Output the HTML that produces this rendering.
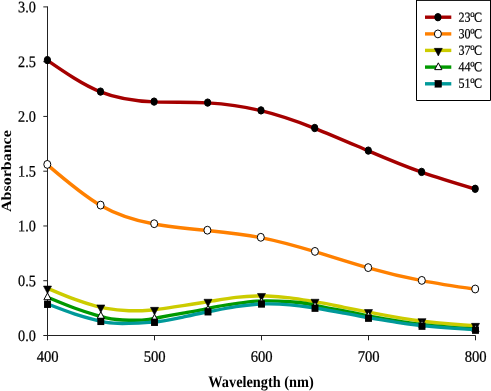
<!DOCTYPE html>
<html><head><meta charset="utf-8"><title>Absorbance vs Wavelength</title>
<style>html,body{margin:0;padding:0;background:#fff}body{width:491px;height:391px;overflow:hidden}text{text-rendering:geometricPrecision}</style>
</head><body>
<svg width="491" height="391" viewBox="0 0 491 391" style="display:block">
<rect width="491" height="391" fill="#fff"/>
<g stroke="#222" stroke-width="1" fill="none" shape-rendering="auto">
<path d="M47.5,6.4V340.3"/>
<path d="M43.3,335.5H475.5"/>
<path d="M43.3,280.73H47.5"/>
<path d="M43.3,225.97H47.5"/>
<path d="M43.3,171.20H47.5"/>
<path d="M43.3,116.43H47.5"/>
<path d="M43.3,61.67H47.5"/>
<path d="M43.3,6.90H47.5"/>
<path d="M154.50,335.5V340.3"/>
<path d="M261.50,335.5V340.3"/>
<path d="M368.50,335.5V340.3"/>
<path d="M475.50,335.5V340.3"/>
</g>
<path d="M47.40,60.40C65.10,72.58 82.80,84.76 100.50,91.90C118.37,99.11 136.23,101.19 154.10,101.90C171.95,102.61 189.80,101.96 207.65,102.90C225.43,103.84 243.22,106.37 261.00,110.70C278.90,115.06 296.80,121.25 314.70,128.30C332.57,135.34 350.43,143.24 368.30,150.90C386.07,158.51 403.83,165.89 421.60,172.20C439.47,178.55 457.33,183.82 475.20,189.10" fill="none" stroke="#a50000" stroke-width="3.4" stroke-linecap="butt"/>
<ellipse cx="47.40" cy="60.10" rx="3.15" ry="3.7" fill="#000" stroke="#000" stroke-width="1"/>
<ellipse cx="100.50" cy="91.60" rx="3.15" ry="3.7" fill="#000" stroke="#000" stroke-width="1"/>
<ellipse cx="154.10" cy="101.60" rx="3.15" ry="3.7" fill="#000" stroke="#000" stroke-width="1"/>
<ellipse cx="207.65" cy="102.60" rx="3.15" ry="3.7" fill="#000" stroke="#000" stroke-width="1"/>
<ellipse cx="261.00" cy="110.40" rx="3.15" ry="3.7" fill="#000" stroke="#000" stroke-width="1"/>
<ellipse cx="314.70" cy="128.00" rx="3.15" ry="3.7" fill="#000" stroke="#000" stroke-width="1"/>
<ellipse cx="368.30" cy="150.60" rx="3.15" ry="3.7" fill="#000" stroke="#000" stroke-width="1"/>
<ellipse cx="421.60" cy="171.90" rx="3.15" ry="3.7" fill="#000" stroke="#000" stroke-width="1"/>
<ellipse cx="475.20" cy="188.80" rx="3.15" ry="3.7" fill="#000" stroke="#000" stroke-width="1"/>
<path d="M47.30,164.70C65.07,179.96 82.83,195.23 100.60,205.40C118.47,215.63 136.33,220.70 154.20,224.00C171.93,227.27 189.67,228.79 207.40,230.50C225.20,232.22 243.00,234.14 260.80,237.60C278.85,241.11 296.90,246.21 314.95,251.70C332.70,257.10 350.45,262.87 368.20,267.90C386.07,272.96 403.93,277.26 421.80,280.70C439.60,284.13 457.40,286.72 475.20,289.30" fill="none" stroke="#ff8000" stroke-width="3.4" stroke-linecap="butt"/>
<ellipse cx="47.30" cy="164.40" rx="3.5" ry="3.95" fill="#fff" stroke="#000" stroke-width="1"/>
<ellipse cx="100.60" cy="205.10" rx="3.5" ry="3.95" fill="#fff" stroke="#000" stroke-width="1"/>
<ellipse cx="154.20" cy="223.70" rx="3.5" ry="3.95" fill="#fff" stroke="#000" stroke-width="1"/>
<ellipse cx="207.40" cy="230.20" rx="3.5" ry="3.95" fill="#fff" stroke="#000" stroke-width="1"/>
<ellipse cx="260.80" cy="237.30" rx="3.5" ry="3.95" fill="#fff" stroke="#000" stroke-width="1"/>
<ellipse cx="314.95" cy="251.40" rx="3.5" ry="3.95" fill="#fff" stroke="#000" stroke-width="1"/>
<ellipse cx="368.20" cy="267.60" rx="3.5" ry="3.95" fill="#fff" stroke="#000" stroke-width="1"/>
<ellipse cx="421.80" cy="280.40" rx="3.5" ry="3.95" fill="#fff" stroke="#000" stroke-width="1"/>
<ellipse cx="475.20" cy="289.00" rx="3.5" ry="3.95" fill="#fff" stroke="#000" stroke-width="1"/>
<path d="M47.50,288.30C48.33,288.65 49.17,289.01 50.00,289.36C58.33,292.88 66.67,296.39 75.00,299.44C82.00,302.01 89.00,304.26 96.00,306.07C99.43,306.96 102.87,307.74 106.30,308.38C113.87,309.78 121.43,310.47 129.00,310.71C135.67,310.93 142.33,310.80 149.00,310.24C152.33,309.97 155.67,309.58 159.00,309.15C167.00,308.12 175.00,306.85 183.00,305.60C189.67,304.56 196.33,303.53 203.00,302.47C206.23,301.95 209.47,301.43 212.70,300.90C220.47,299.64 228.23,298.33 236.00,297.41C242.83,296.61 249.67,296.09 256.50,295.98C259.90,295.92 263.30,295.96 266.70,296.07C274.47,296.32 282.23,296.95 290.00,297.92C296.67,298.76 303.33,299.85 310.00,300.93C313.33,301.47 316.67,302.01 320.00,302.60C328.00,304.01 336.00,305.72 344.00,307.32C350.47,308.61 356.93,309.83 363.40,311.10C366.83,311.77 370.27,312.45 373.70,313.11C381.47,314.61 389.23,316.03 397.00,317.36C403.67,318.50 410.33,319.59 417.00,320.49C420.33,320.93 423.67,321.33 427.00,321.71C435.00,322.61 443.00,323.38 451.00,324.03C457.67,324.57 464.33,325.04 471.00,325.49C472.50,325.60 474.00,325.70 475.50,325.80" fill="none" stroke="#cccc00" stroke-width="3.4" stroke-linecap="butt"/>
<path d="M43.50,286.07L51.50,286.07L47.50,293.67Z" fill="#000" stroke="#000" stroke-width="0.6"/>
<path d="M96.80,304.97L104.80,304.97L100.80,312.57Z" fill="#000" stroke="#000" stroke-width="0.6"/>
<path d="M150.50,307.37L158.50,307.37L154.50,314.97Z" fill="#000" stroke="#000" stroke-width="0.6"/>
<path d="M204.00,299.27L212.00,299.27L208.00,306.87Z" fill="#000" stroke="#000" stroke-width="0.6"/>
<path d="M257.50,293.47L265.50,293.47L261.50,301.07Z" fill="#000" stroke="#000" stroke-width="0.6"/>
<path d="M311.00,299.27L319.00,299.27L315.00,306.87Z" fill="#000" stroke="#000" stroke-width="0.6"/>
<path d="M364.50,309.57L372.50,309.57L368.50,317.17Z" fill="#000" stroke="#000" stroke-width="0.6"/>
<path d="M418.00,318.67L426.00,318.67L422.00,326.27Z" fill="#000" stroke="#000" stroke-width="0.6"/>
<path d="M471.50,323.37L479.50,323.37L475.50,330.97Z" fill="#000" stroke="#000" stroke-width="0.6"/>
<path d="M47.50,297.20C48.33,297.55 49.17,297.90 50.00,298.25C58.33,301.74 66.67,305.23 75.00,308.25C82.00,310.79 89.00,313.01 96.00,315.06C99.43,316.07 102.87,317.04 106.30,317.79C113.87,319.44 121.43,320.00 129.00,320.21C135.67,320.40 142.33,320.31 149.00,319.36C152.33,318.89 155.67,318.20 159.00,317.53C167.00,315.92 175.00,314.42 183.00,313.09C189.67,311.99 196.33,311.01 203.00,309.58C206.23,308.88 209.47,308.09 212.70,307.39C220.47,305.73 228.23,304.69 236.00,303.59C242.83,302.62 249.67,301.61 256.50,301.17C259.90,300.95 263.30,300.86 266.70,300.86C274.47,300.84 282.23,301.21 290.00,301.78C296.67,302.27 303.33,302.91 310.00,304.25C313.33,304.92 316.67,305.77 320.00,306.50C328.00,308.26 336.00,309.35 344.00,310.89C350.47,312.14 356.93,313.68 363.40,315.01C366.83,315.72 370.27,316.36 373.70,316.99C381.47,318.41 389.23,319.72 397.00,320.98C403.67,322.07 410.33,323.12 417.00,323.98C420.33,324.42 423.67,324.81 427.00,325.17C435.00,326.02 443.00,326.69 451.00,327.33C457.67,327.86 464.33,328.37 471.00,328.81C472.50,328.91 474.00,329.00 475.50,329.10" fill="none" stroke="#009900" stroke-width="3.4" stroke-linecap="butt"/>
<path d="M43.90,299.73L51.10,299.73L47.50,292.93Z" fill="#fff" stroke="#000" stroke-width="1"/>
<path d="M97.20,318.53L104.40,318.53L100.80,311.73Z" fill="#fff" stroke="#000" stroke-width="1"/>
<path d="M150.90,321.03L158.10,321.03L154.50,314.23Z" fill="#fff" stroke="#000" stroke-width="1"/>
<path d="M204.40,312.13L211.60,312.13L208.00,305.33Z" fill="#fff" stroke="#000" stroke-width="1"/>
<path d="M257.90,304.73L265.10,304.73L261.50,297.93Z" fill="#fff" stroke="#000" stroke-width="1"/>
<path d="M311.40,308.53L318.60,308.53L315.00,301.73Z" fill="#fff" stroke="#000" stroke-width="1"/>
<path d="M364.90,318.53L372.10,318.53L368.50,311.73Z" fill="#fff" stroke="#000" stroke-width="1"/>
<path d="M418.40,327.13L425.60,327.13L422.00,320.33Z" fill="#fff" stroke="#000" stroke-width="1"/>
<path d="M471.90,331.53L479.10,331.53L475.50,324.73Z" fill="#fff" stroke="#000" stroke-width="1"/>
<path d="M47.50,303.90C48.33,304.22 49.17,304.54 50.00,304.87C58.33,308.09 66.67,311.32 75.00,314.05C82.00,316.35 89.00,318.30 96.00,320.11C99.43,321.00 102.87,321.85 106.30,322.43C113.87,323.70 121.43,323.64 129.00,323.39C135.67,323.16 142.33,322.79 149.00,322.34C152.33,322.11 155.67,321.87 159.00,321.48C167.00,320.55 175.00,318.82 183.00,317.06C189.67,315.60 196.33,314.13 203.00,312.79C206.23,312.14 209.47,311.52 212.70,310.90C220.47,309.41 228.23,307.90 236.00,306.67C242.83,305.58 249.67,304.70 256.50,304.25C259.90,304.03 263.30,303.92 266.70,303.88C274.47,303.80 282.23,304.14 290.00,304.82C296.67,305.42 303.33,306.27 310.00,307.21C313.33,307.69 316.67,308.19 320.00,308.73C328.00,310.04 336.00,311.62 344.00,313.18C350.47,314.45 356.93,315.70 363.40,316.84C366.83,317.45 370.27,318.02 373.70,318.60C381.47,319.89 389.23,321.19 397.00,322.33C403.67,323.31 410.33,324.19 417.00,324.99C420.33,325.39 423.67,325.77 427.00,326.11C435.00,326.94 443.00,327.54 451.00,328.08C457.67,328.54 464.33,328.94 471.00,329.34C472.50,329.42 474.00,329.51 475.50,329.60" fill="none" stroke="#009999" stroke-width="3.4" stroke-linecap="butt"/>
<rect x="44.05" y="300.65" width="6.9" height="7.3" fill="#000"/>
<rect x="97.35" y="317.75" width="6.9" height="7.3" fill="#000"/>
<rect x="151.05" y="318.65" width="6.9" height="7.3" fill="#000"/>
<rect x="204.55" y="308.15" width="6.9" height="7.3" fill="#000"/>
<rect x="258.05" y="300.35" width="6.9" height="7.3" fill="#000"/>
<rect x="311.55" y="304.55" width="6.9" height="7.3" fill="#000"/>
<rect x="365.05" y="314.55" width="6.9" height="7.3" fill="#000"/>
<rect x="418.55" y="322.55" width="6.9" height="7.3" fill="#000"/>
<rect x="472.05" y="326.55" width="6.9" height="7.3" fill="#000"/>
<g font-family="'Liberation Serif', 'Times New Roman', serif" font-size="16" fill="#000" stroke="#000" stroke-width="0.25">
<text transform="translate(35.9,340.90) scale(0.89,1) rotate(0.03)" text-anchor="end">0.0</text>
<text transform="translate(35.9,286.13) scale(0.89,1) rotate(0.03)" text-anchor="end">0.5</text>
<text transform="translate(35.9,231.37) scale(0.89,1) rotate(0.03)" text-anchor="end">1.0</text>
<text transform="translate(35.9,176.60) scale(0.89,1) rotate(0.03)" text-anchor="end">1.5</text>
<text transform="translate(35.9,121.83) scale(0.89,1) rotate(0.03)" text-anchor="end">2.0</text>
<text transform="translate(35.9,67.07) scale(0.89,1) rotate(0.03)" text-anchor="end">2.5</text>
<text transform="translate(35.9,12.30) scale(0.89,1) rotate(0.03)" text-anchor="end">3.0</text>
<text transform="translate(47.70,361.8) scale(0.915,1) rotate(0.03)" text-anchor="middle">400</text>
<text transform="translate(154.70,361.8) scale(0.915,1) rotate(0.03)" text-anchor="middle">500</text>
<text transform="translate(261.70,361.8) scale(0.915,1) rotate(0.03)" text-anchor="middle">600</text>
<text transform="translate(368.70,361.8) scale(0.915,1) rotate(0.03)" text-anchor="middle">700</text>
<text transform="translate(475.70,361.8) scale(0.915,1) rotate(0.03)" text-anchor="middle">800</text>
</g>
<g font-family="'Liberation Serif', 'Times New Roman', serif" font-weight="bold" fill="#000">
<text transform="translate(261,387) scale(0.895,1) rotate(0.03)" font-size="16" text-anchor="middle">Wavelength (nm)</text>
<text transform="translate(10.9,171.1) scale(0.88,1) rotate(-90.03)" font-size="16" text-anchor="middle">Absorbance</text>
</g>
<path d="M416.5,0V100.5H490.5V0M416,0.4H491" fill="none" stroke="#000" stroke-width="1"/>
<g font-family="'Liberation Serif', 'Times New Roman', serif" font-size="13.8" fill="#000" stroke="#000" stroke-width="0.2">
<path d="M425,17.2H451.3" stroke="#a50000" stroke-width="3.4" fill="none"/>
<ellipse cx="437.90" cy="17.20" rx="3.15" ry="3.7" fill="#000" stroke="#000" stroke-width="1"/>
<text transform="translate(458.4,21.80) scale(0.875,1) rotate(0.03)">23<tspan dy="1.1" dx="-0.3" font-size="16">º</tspan><tspan dy="-1.1" dx="-0.5">C</tspan></text>
<path d="M425,33.9H451.3" stroke="#ff8000" stroke-width="3.4" fill="none"/>
<ellipse cx="437.90" cy="33.90" rx="3.5" ry="3.95" fill="#fff" stroke="#000" stroke-width="1"/>
<text transform="translate(458.4,38.30) scale(0.875,1) rotate(0.03)">30<tspan dy="1.1" dx="-0.3" font-size="16">º</tspan><tspan dy="-1.1" dx="-0.5">C</tspan></text>
<path d="M425,50.4H451.3" stroke="#cccc00" stroke-width="3.4" fill="none"/>
<path d="M434.30,48.37L442.30,48.37L438.30,55.97Z" fill="#000" stroke="#000" stroke-width="0.6"/>
<text transform="translate(458.4,54.80) scale(0.875,1) rotate(0.03)">37<tspan dy="1.1" dx="-0.3" font-size="16">º</tspan><tspan dy="-1.1" dx="-0.5">C</tspan></text>
<path d="M425,67.1H451.3" stroke="#009900" stroke-width="3.4" fill="none"/>
<path d="M434.70,69.63L441.90,69.63L438.30,62.83Z" fill="#fff" stroke="#000" stroke-width="1"/>
<text transform="translate(458.4,71.30) scale(0.875,1) rotate(0.03)">44<tspan dy="1.1" dx="-0.3" font-size="16">º</tspan><tspan dy="-1.1" dx="-0.5">C</tspan></text>
<path d="M425,83.8H451.3" stroke="#009999" stroke-width="3.4" fill="none"/>
<rect x="434.85" y="80.15" width="6.9" height="7.3" fill="#000"/>
<text transform="translate(458.4,87.80) scale(0.875,1) rotate(0.03)">51<tspan dy="1.1" dx="-0.3" font-size="16">º</tspan><tspan dy="-1.1" dx="-0.5">C</tspan></text>
</g>
</svg>
</body></html>
